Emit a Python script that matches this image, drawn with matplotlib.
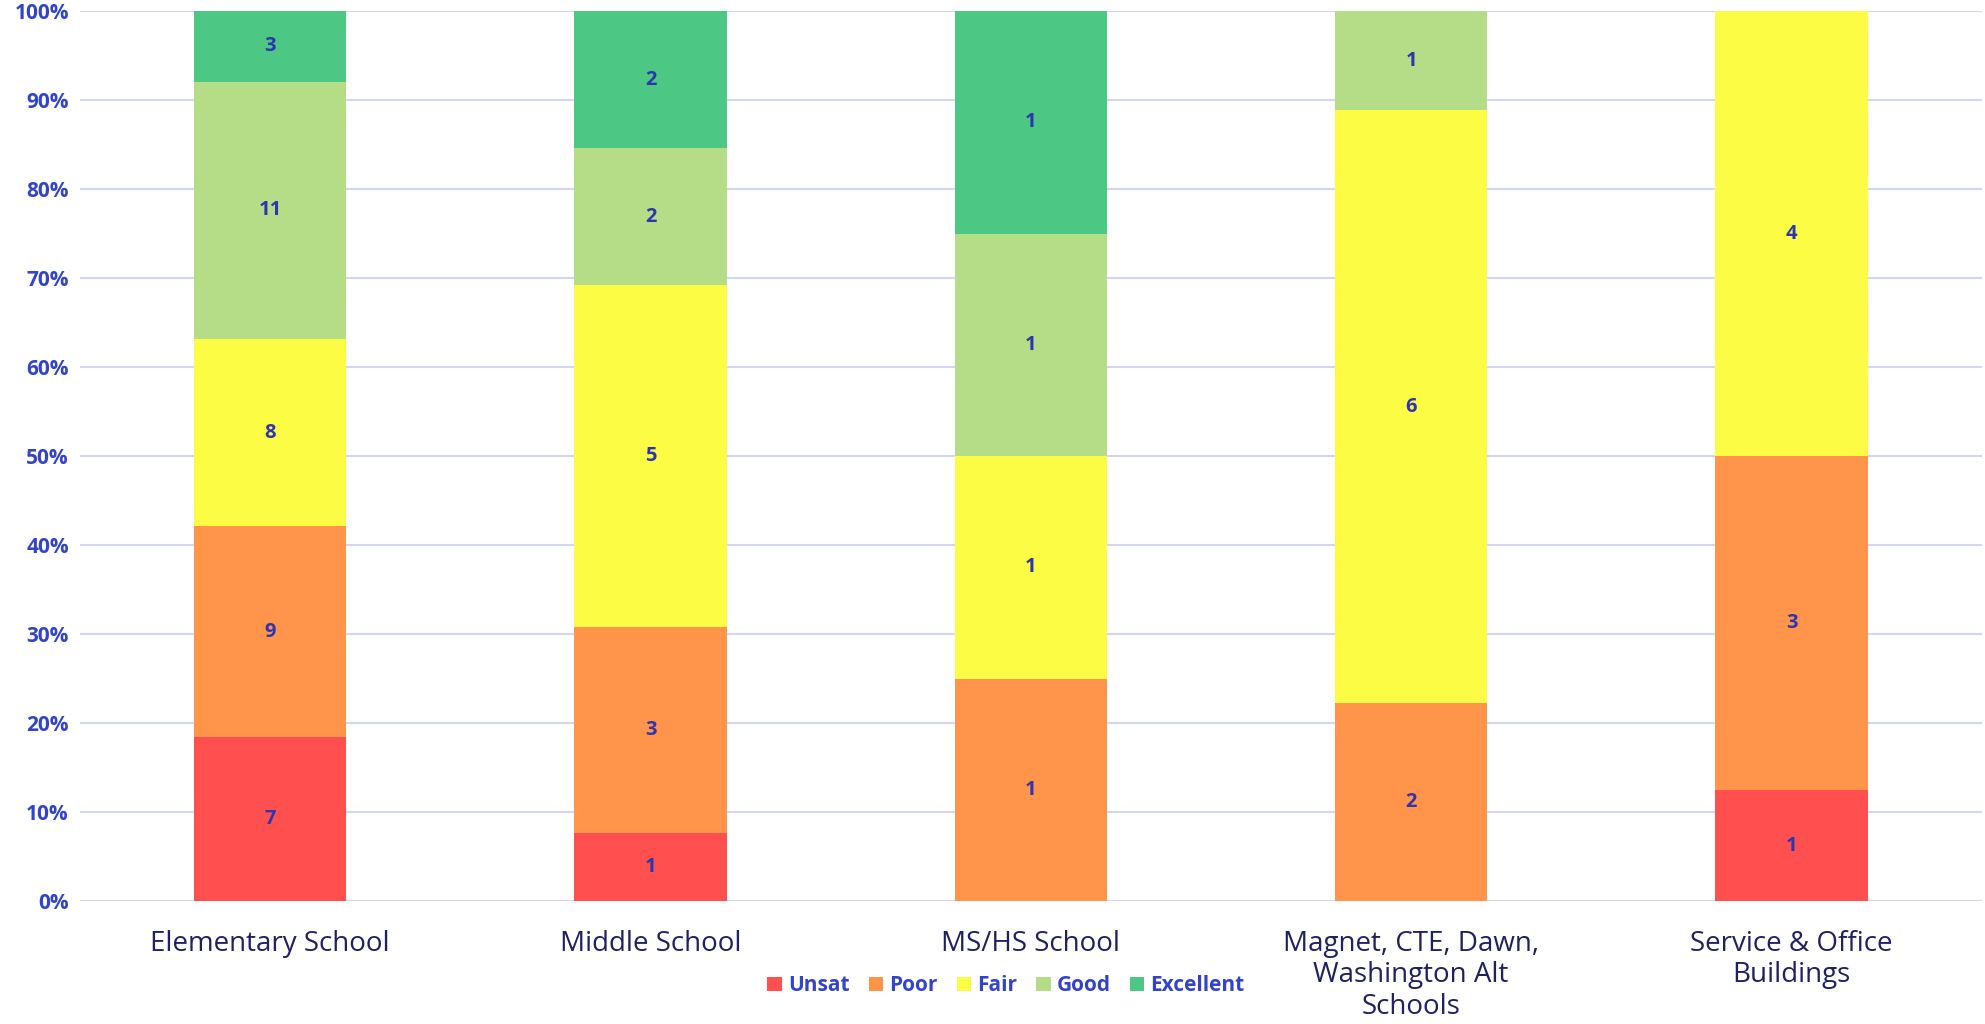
import numpy as np
import matplotlib
matplotlib.use("Agg")
import matplotlib.pyplot as plt
from matplotlib.ticker import PercentFormatter

plt.rcParams["font.family"] = ["Open Sans", "DejaVu Sans"]

categories = ["Elementary School", "Middle School", "MS/HS School",
              "Magnet, CTE, Dawn,\nWashington Alt\nSchools",
              "Service & Office\nBuildings"]
ratings = ["Unsat", "Poor", "Fair", "Good", "Excellent"]
unsat     = [7, 1, 0, 0, 1]
poor      = [9, 3, 1, 2, 3]
fair      = [8, 5, 1, 6, 4]
good      = [11, 2, 1, 1, 0]
excellent = [3, 2, 1, 0, 0]
colors = ["#FF4F4F", "#FF944A", "#FCFC45", "#B5DD88", "#4CC784"]

counts = np.array([unsat, poor, fair, good, excellent], dtype=float)
totals = counts.sum(axis=0)
shares = counts / totals * 100

fig = plt.figure(figsize=(19.85, 10.24), dpi=100)
ax = fig.add_axes([0.0403, 0.120, 0.958, 0.869])

x = np.arange(len(categories))
bottom = np.zeros(len(categories))
for i, name in enumerate(ratings):
    ax.bar(x, shares[i], width=0.4, bottom=bottom, color=colors[i],
           label=name, zorder=3)
    for j in range(len(categories)):
        if counts[i, j] > 0:
            ax.text(x[j], bottom[j] + shares[i, j] / 2, f"{int(counts[i, j])}",
                    ha="center", va="center", fontsize=14.5, fontweight="bold",
                    color="#2E35B0", zorder=4)
    bottom += shares[i]

ax.set_xlim(-0.5, len(categories) - 0.5)
ax.set_ylim(0, 100)
ax.set_yticks(np.arange(0, 101, 10))
ax.yaxis.set_major_formatter(PercentFormatter(decimals=0))
ax.grid(axis="y", color="#D3D6F2", lw=1.5, zorder=0)
for s in ax.spines.values():
    s.set_visible(False)
ax.tick_params(length=0)
ax.tick_params(axis="y", labelsize=15, labelcolor="#3344CC", pad=8)
for lab in ax.get_yticklabels():
    lab.set_fontweight("bold")
ax.set_xticks(x)
ax.set_xticklabels(categories, fontsize=20, color="#1F2160", va="top",
                   linespacing=1.15)
ax.tick_params(axis="x", pad=21)

leg = ax.legend(loc="center", bbox_to_anchor=(0.487, -0.095), ncol=5,
                frameon=False, fontsize=15, handlelength=0.7, handleheight=0.7,
                columnspacing=0.9, handletextpad=0.3)
for t in leg.get_texts():
    t.set_color("#3344CC")
    t.set_fontweight("bold")

fig.savefig("out.png", dpi=100)
